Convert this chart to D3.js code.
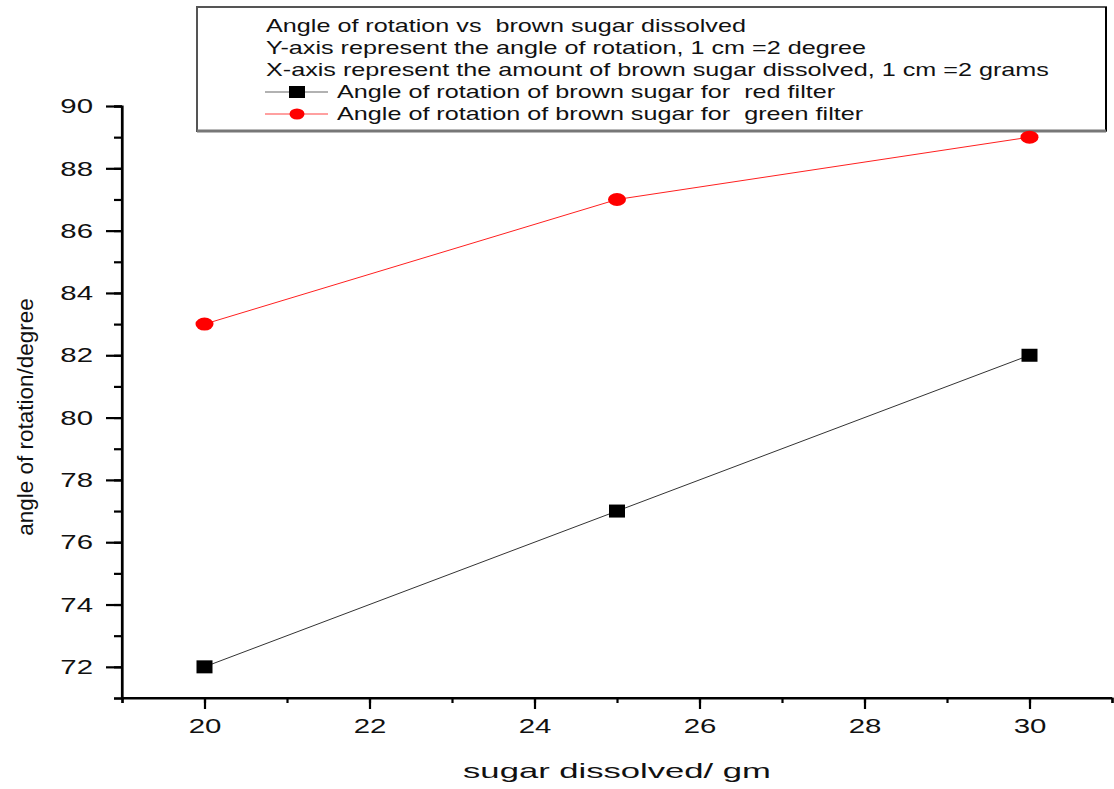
<!DOCTYPE html>
<html>
<head>
<meta charset="utf-8">
<script src="https://cdn.jsdelivr.net/npm/d3@7"></script>
<style>
  body { margin: 0; background: #fff; }
  svg { display: block; font-family: "Liberation Sans", Arial, sans-serif; }
  text { white-space: pre; }
</style>
</head>
<body>
<svg id="chart" width="1114" height="789"></svg>
<script>
const sugar = [20, 25, 30];
const redFilter = [72, 77, 82];
const greenFilter = [83, 87, 89];
const xTicks = [20, 22, 24, 26, 28, 30];
const yTicks = [72, 74, 76, 78, 80, 82, 84, 86, 88, 90];
const legendLines = [
  "Angle of rotation vs  brown sugar dissolved",
  "Y-axis represent the angle of rotation, 1 cm =2 degree",
  "X-axis represent the amount of brown sugar dissolved, 1 cm =2 grams",
];
const seriesNames = [
  "Angle of rotation of brown sugar for  red filter",
  "Angle of rotation of brown sugar for  green filter",
];

(() => {
  // the original picture is stretched sideways, so text is widened too
  const SX = 1.4;
  const svg = d3.select("#chart");
  const x = d3.scaleLinear().domain([19, 31]).range([122, 1112]);
  const y = d3.scaleLinear().domain([71, 90]).range([698, 106]);

  const xAxis = d3.axisBottom(x).tickValues(xTicks).tickSize(11).tickPadding(9)
    .tickFormat(d3.format("d"));
  const xMinor = d3.axisBottom(x).tickValues(d3.range(19, 32, 1)).tickSize(5)
    .tickFormat("");
  const yAxis = d3.axisLeft(y).tickValues(yTicks).tickSize(16).tickPadding(13)
    .tickFormat(d3.format("d"));
  const yMinor = d3.axisLeft(y).tickValues(d3.range(71, 91, 1)).tickSize(8)
    .tickFormat("");

  function styleAxis(g) {
    g.select(".domain").attr("stroke", "#000").attr("stroke-width", 2.2);
    g.selectAll(".tick line").attr("stroke", "#000").attr("stroke-width", 2.2);
    g.selectAll(".tick text")
      .attr("fill", "#111")
      .style("font-size", "21px")
      .style("font-family", "'Liberation Sans', Arial, sans-serif")
      .attr("x", function () { return (+d3.select(this).attr("x") || 0) / SX; })
      .attr("transform", `scale(${SX},1)`);
  }

  svg.append("g").attr("transform", "translate(0,698)").call(xMinor).call(styleAxis);
  svg.append("g").attr("transform", "translate(0,698)").call(xAxis).call(styleAxis)
    .select(".domain").attr("d", `M${x(19)},0H${x(31)}`);
  svg.append("g").attr("transform", "translate(122,0)").call(yMinor).call(styleAxis);
  svg.append("g").attr("transform", "translate(122,0)").call(yAxis).call(styleAxis)
    .select(".domain").attr("d", `M0,${y(90)}V${y(71)}`);

  // axis titles
  svg.append("text")
    .attr("transform", "translate(617,778) scale(1.65,1)")
    .attr("text-anchor", "middle")
    .style("font-size", "21px")
    .attr("fill", "#111")
    .text("sugar dissolved/ gm");

  svg.append("text")
    .attr("transform", "translate(33,417) rotate(-90)")
    .attr("text-anchor", "middle")
    .style("font-size", "22.5px")
    .attr("fill", "#111")
    .text("angle of rotation/degree");

  // series
  const line = d3.line().x((d) => x(d[0])).y((d) => y(d[1]));
  const redPts = sugar.map((s, i) => [s, redFilter[i]]);
  const greenPts = sugar.map((s, i) => [s, greenFilter[i]]);

  svg.append("path").attr("d", line(redPts))
    .attr("fill", "none").attr("stroke", "#333").attr("stroke-width", 1);
  svg.append("path").attr("d", line(greenPts))
    .attr("fill", "none").attr("stroke", "#ff2020").attr("stroke-width", 1);

  svg.selectAll("rect.pt").data(redPts).enter().append("rect")
    .attr("class", "pt")
    .attr("x", (d) => x(d[0]) - 8).attr("y", (d) => y(d[1]) - 6.5)
    .attr("width", 16).attr("height", 13)
    .attr("fill", "#000");

  // legend box
  const legend = svg.append("g");
  legend.append("rect")
    .attr("x", 197).attr("y", 7).attr("width", 909).attr("height", 124)
    .attr("fill", "#fff").attr("stroke", "#555").attr("stroke-width", 2);
  legend.append("path")
    .attr("d", "M1106,7V131")
    .attr("fill", "none").attr("stroke", "#000").attr("stroke-width", 2);
  legend.append("path")
    .attr("d", "M197,131H1106")
    .attr("fill", "none").attr("stroke", "#777").attr("stroke-width", 3);

  legend.selectAll("text.info").data(legendLines).enter().append("text")
    .attr("class", "info")
    .attr("transform", (d, i) => `translate(266,${32 + i * 22}) scale(${SX},1)`)
    .style("font-size", "18px")
    .attr("fill", "#111")
    .text((d) => d);

  const rowY = [98, 120];
  legend.selectAll("text.series").data(seriesNames).enter().append("text")
    .attr("class", "series")
    .attr("transform", (d, i) => `translate(337,${rowY[i]}) scale(${SX},1)`)
    .style("font-size", "18px")
    .attr("fill", "#111")
    .text((d) => d);

  legend.append("line")
    .attr("x1", 265).attr("x2", 328).attr("y1", rowY[0] - 6).attr("y2", rowY[0] - 6)
    .attr("stroke", "#999").attr("stroke-width", 1.5);
  legend.append("rect")
    .attr("x", 289).attr("y", rowY[0] - 12).attr("width", 16).attr("height", 12)
    .attr("fill", "#000");
  legend.append("line")
    .attr("x1", 265).attr("x2", 328).attr("y1", rowY[1] - 6).attr("y2", rowY[1] - 6)
    .attr("stroke", "#ff8080").attr("stroke-width", 1.5);
  legend.append("ellipse")
    .attr("cx", 297).attr("cy", rowY[1] - 6).attr("rx", 7.5).attr("ry", 5.5)
    .attr("fill", "#ff0000");

  // green-filter markers sit above the legend frame
  svg.selectAll("ellipse.pt").data(greenPts).enter().append("ellipse")
    .attr("class", "pt")
    .attr("cx", (d) => x(d[0])).attr("cy", (d) => y(d[1]))
    .attr("rx", 9).attr("ry", 6.5)
    .attr("fill", "#ff0000");
})();
</script>
</body>
</html>
